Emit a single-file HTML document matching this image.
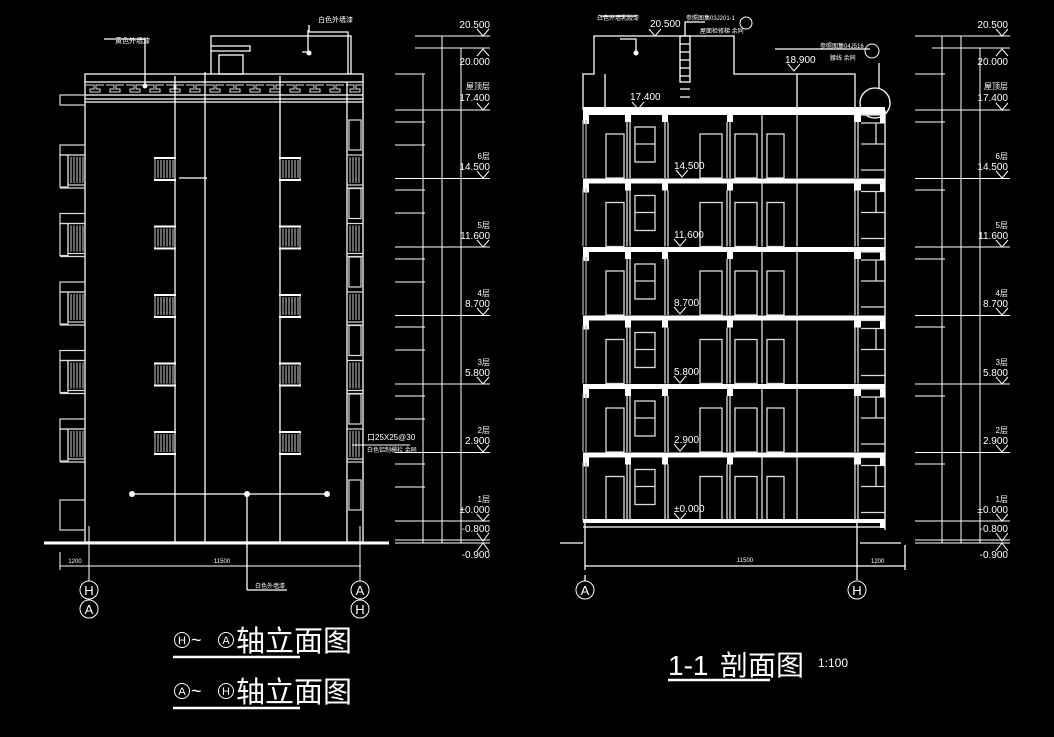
<!DOCTYPE html>
<html><head><meta charset="utf-8"><style>
html,body{margin:0;padding:0;background:#000;}
svg{display:block}
text{font-family:"Liberation Sans Narrow","Liberation Sans","Noto Sans CJK SC",sans-serif;fill:#fff}
</style></head><body>
<svg width="1054" height="737" viewBox="0 0 1054 737" xmlns="http://www.w3.org/2000/svg">
<defs>
<pattern id="meander" x="85" y="82" width="20" height="13" patternUnits="userSpaceOnUse">
<path d="M1 3H9V7H5V10H15V7H11V3H19" stroke="#ddd" stroke-width="1" fill="none"/>
</pattern>
<g id="grille" stroke="#ccc" stroke-width="1" fill="none">
<rect x="0" y="0" width="20" height="22"/>
<path d="M3 2V20M6 2V20M9 2V20M12 2V20M15 2V20M18 2V20"/>
<line x1="-1" y1="22" x2="21" y2="22" stroke="#fff" stroke-width="2"/>
<line x1="-1" y1="0" x2="21" y2="0" stroke="#fff" stroke-width="2"/>
</g>
<g id="elevFloor" stroke="#ddd" stroke-width="1.2" fill="none">
<use href="#grille" x="155" y="48"/>
<use href="#grille" x="280" y="48"/>
<rect x="60" y="35" width="25" height="10"/>
<rect x="68" y="45" width="17" height="30"/>
<path d="M71 47V73M74 47V73M77 47V73M80 47V73M83 47V73" stroke="#aaa"/>
<rect x="60" y="45" width="8" height="32"/>
<line x1="60" y1="78" x2="85" y2="78"/>
<rect x="347" y="45" width="16" height="30"/>
<path d="M350 47V73M353 47V73M356 47V73M359 47V73" stroke="#aaa"/>
<line x1="347" y1="78" x2="363" y2="78"/>
<rect x="349" y="10" width="12" height="30"/>
</g>
<g id="secFloor" stroke="#ddd" stroke-width="1.3" fill="none">
<rect x="583" y="0" width="302" height="5" fill="#fff" stroke="none"/>
<rect x="583" y="0" width="6" height="14" fill="#fff" stroke="none"/>
<rect x="625" y="5" width="6" height="7" fill="#fff" stroke="none"/>
<rect x="662" y="5" width="6" height="7" fill="#fff" stroke="none"/>
<rect x="727" y="5" width="6" height="7" fill="#fff" stroke="none"/>
<rect x="854" y="0" width="7" height="12" fill="#fff" stroke="none"/>
<path d="M627 12V68M630 12V68M665 12V68M668 12V68M727 12V68M730 12V68M762 5V68M797 5V68M855 12V68M858 12V68"/>
<rect x="606" y="24" width="18" height="44"/>
<rect x="635" y="17" width="20" height="35"/>
<line x1="635" y1="34" x2="655" y2="34"/>
<rect x="700" y="24" width="22" height="44"/>
<rect x="735" y="24" width="22" height="44"/>
<rect x="767" y="24" width="17" height="44"/>
<path d="M583 10V68M586 10V68" stroke="#aaa"/>
<path d="M861 5H885V13H861M861 13H876V34H861M861 34H885V60H861" />
<rect x="880" y="5" width="5" height="8" fill="#fff" stroke="none"/>
</g>
<g id="circ" fill="none" stroke="#fff" stroke-width="1"><circle cx="0" cy="0" r="9"/></g>
</defs>

<!-- ===== LEFT ELEVATION ===== -->
<rect x="86" y="83" width="276" height="12" fill="url(#meander)"/>
<g stroke="#fff" stroke-width="1.3" fill="none">
<rect x="85" y="74" width="278" height="468"/>
<line x1="347" y1="82" x2="347" y2="542"/>
<line x1="85" y1="82" x2="363" y2="82"/>
<line x1="85" y1="95" x2="363" y2="95"/>
<line x1="85" y1="99" x2="363" y2="99"/>
<line x1="85" y1="102" x2="363" y2="102"/>
<line x1="175" y1="76" x2="175" y2="542"/>
<line x1="205" y1="72" x2="205" y2="542"/>
<line x1="280" y1="76" x2="280" y2="542"/>
<polyline points="211,74 211,36 351,36 351,74"/>
<polyline points="211,46 250,46 250,51 211,51"/>
<rect x="219" y="55" width="24" height="19"/>
<line x1="130" y1="494" x2="327" y2="494"/>
<line x1="247" y1="494" x2="247" y2="590"/>
<polyline points="247,590 287,590"/>
<line x1="179" y1="178" x2="207" y2="178"/>
<polyline points="104,39 145,39 145,86"/>
<polyline points="309,25 309,32 348,32 348,74"/>
<polyline points="302,52 308,52 308,30"/>
</g>
<g fill="#fff"><circle cx="145" cy="86" r="2.5"/><circle cx="309" cy="53" r="2.5"/><circle cx="132" cy="494" r="3"/><circle cx="247" cy="494" r="3"/><circle cx="327" cy="494" r="3"/></g>
<use href="#elevFloor" y="110"/>
<use href="#elevFloor" y="178.5"/>
<use href="#elevFloor" y="247"/>
<use href="#elevFloor" y="315.5"/>
<use href="#elevFloor" y="384"/>
<g stroke="#ddd" stroke-width="1.2" fill="none">
<rect x="60" y="500" width="25" height="30"/>
<rect x="60" y="95" width="25" height="10"/>
<rect x="349" y="480" width="12" height="30"/>
</g>
<line x1="44" y1="543" x2="389" y2="543" stroke="#fff" stroke-width="3"/>
<g stroke="#fff" stroke-width="1" fill="none">
<line x1="60" y1="566" x2="361" y2="566"/>
<line x1="60" y1="552" x2="60" y2="570"/>
<line x1="89" y1="526" x2="89" y2="581"/>
<line x1="360" y1="526" x2="360" y2="581"/>
</g>
<text x="75" y="563" font-size="6" text-anchor="middle">1200</text>
<text x="222" y="563" font-size="6" text-anchor="middle">11500</text>
<text x="255" y="588" font-size="6">白色外墙漆</text>
<text x="115" y="43" font-size="7">黄色外墙漆</text>
<text x="318" y="22" font-size="7">白色外墙漆</text>
<text x="367" y="440" font-size="8">口25X25@30</text>
<text x="367" y="452" font-size="6">白色铝制栅栏 余同</text>
<line x1="352" y1="445" x2="410" y2="445" stroke="#fff"/>
<use href="#circ" x="89" y="590"/><use href="#circ" x="89" y="609"/>
<use href="#circ" x="360" y="590"/><use href="#circ" x="360" y="609"/>
<text x="89" y="595" font-size="13" text-anchor="middle" font-family="Liberation Serif">H</text>
<text x="89" y="614" font-size="13" text-anchor="middle" font-family="Liberation Serif">A</text>
<text x="360" y="595" font-size="13" text-anchor="middle" font-family="Liberation Serif">A</text>
<text x="360" y="614" font-size="13" text-anchor="middle" font-family="Liberation Serif">H</text>

<!-- left dimension column -->
<g stroke="#fff" stroke-width="1" fill="none">
<line x1="423" y1="74" x2="423" y2="543"/>
<line x1="442" y1="36" x2="442" y2="543"/>
<line x1="461" y1="48" x2="461" y2="543"/>
<path d="M415 36H490M415 48H490M395 110H490M395 178.5H490M395 247H490M395 315.5H490M395 384H490M395 452.5H490M395 521H490M395 540H490M395 543H490"/>
<path d="M395 74H425M395 122H425M395 145H425M395 190H425M395 213H425M395 259H425M395 282H425M395 327H425M395 350H425M395 396H425M395 419H425M395 464H425M395 487H425"/>
</g>
<g stroke="#fff" stroke-width="1" fill="none">
<line x1="942" y1="36" x2="942" y2="543"/>
<line x1="961" y1="36" x2="961" y2="543"/>
<line x1="980" y1="48" x2="980" y2="543"/>
<path d="M915 36H1010M932 48H1010M915 110H1010M915 178.5H1010M915 247H1010M915 315.5H1010M915 384H1010M915 452.5H1010M915 521H1010M915 540H1010M915 543H1010"/>
<path d="M915 74H945M915 122H945M915 190H945M915 259H945M915 327H945M915 396H945M915 464H945"/>
</g>
<g stroke="#fff" stroke-width="1" fill="none">
<path d="M477 29l6 7l6-7M477 56l6-7l6 7M477 103l6 7l6-7M477 171l6 7l6-7M477 240l6 7l6-7M477 308l6 7l6-7M477 377l6 7l6-7M477 445l6 7l6-7M477 514l6 7l6-7M477 533l6 8l6-8M477 551l6-8l6 8"/>
<path d="M996 29l6 7l6-7M996 56l6-7l6 7M996 103l6 7l6-7M996 171l6 7l6-7M996 240l6 7l6-7M996 308l6 7l6-7M996 377l6 7l6-7M996 445l6 7l6-7M996 514l6 7l6-7M996 533l6 8l6-8M996 551l6-8l6 8"/>
</g>
<g font-size="10" text-anchor="end">
<text x="490" y="28">20.500</text><text x="490" y="65">20.000</text>
<text x="490" y="89" font-size="8">屋顶层</text><text x="490" y="101">17.400</text>
<text x="490" y="159" font-size="8">6层</text><text x="490" y="170">14.500</text>
<text x="490" y="228" font-size="8">5层</text><text x="490" y="239">11.600</text>
<text x="490" y="296" font-size="8">4层</text><text x="490" y="307">8.700</text>
<text x="490" y="365" font-size="8">3层</text><text x="490" y="376">5.800</text>
<text x="490" y="433" font-size="8">2层</text><text x="490" y="444">2.900</text>
<text x="490" y="502" font-size="8">1层</text><text x="490" y="513">±0.000</text>
<text x="490" y="532">-0.800</text><text x="490" y="558">-0.900</text>
<text x="1008" y="28">20.500</text><text x="1008" y="65">20.000</text>
<text x="1008" y="89" font-size="8">屋顶层</text><text x="1008" y="101">17.400</text>
<text x="1008" y="159" font-size="8">6层</text><text x="1008" y="170">14.500</text>
<text x="1008" y="228" font-size="8">5层</text><text x="1008" y="239">11.600</text>
<text x="1008" y="296" font-size="8">4层</text><text x="1008" y="307">8.700</text>
<text x="1008" y="365" font-size="8">3层</text><text x="1008" y="376">5.800</text>
<text x="1008" y="433" font-size="8">2层</text><text x="1008" y="444">2.900</text>
<text x="1008" y="502" font-size="8">1层</text><text x="1008" y="513">±0.000</text>
<text x="1008" y="532">-0.800</text><text x="1008" y="558">-0.900</text>
</g>

<!-- ===== SECTION ===== -->
<g stroke="#fff" stroke-width="1.3" fill="none">
<polyline points="583,110 583,74 594,74 594,36 734,36 734,74 855,74 855,110"/>
<line x1="605" y1="74" x2="605" y2="110"/>
<line x1="797" y1="74" x2="797" y2="110"/>
<rect x="680" y="36" width="10" height="46"/>
<path d="M680 44H690M680 52H690M680 60H690M680 68H690M680 76H690M680 89H690M680 97H690"/>
<polyline points="620,39 636,39 636,53"/>
<polyline points="600,16 636,16"/>
<polyline points="685,36 685,22 705,22"/>
<line x1="885" y1="110" x2="885" y2="530"/>
<line x1="583" y1="521" x2="885" y2="521"/>
<line x1="583" y1="527" x2="885" y2="527"/>
<path d="M560 543H583M585 523V570M860 543H901M857 523V580"/>
<line x1="585" y1="566" x2="905" y2="566"/>
<line x1="905" y1="545" x2="905" y2="570"/>
<line x1="585" y1="575" x2="585" y2="581"/>
<circle cx="875" cy="103" r="15"/>
<line x1="879" y1="63" x2="879" y2="88"/>
<path d="M775 49H870"/>
</g>
<rect x="583" y="107" width="302" height="5" fill="#fff"/>
<circle cx="636" cy="53" r="2.5" fill="#fff"/>
<use href="#secFloor" y="110"/>
<use href="#secFloor" y="178.5"/>
<use href="#secFloor" y="247"/>
<use href="#secFloor" y="315.5"/>
<use href="#secFloor" y="384"/>
<use href="#secFloor" y="452.5"/>
<rect x="583" y="519" width="302" height="4" fill="#fff"/>
<rect x="880" y="520" width="5" height="8" fill="#fff"/>
<g stroke="#fff" stroke-width="1" fill="none">
<path d="M649 29l6 7l6-7M632 102l6 7l6-7M676 170l6 7l6-7M674 239l6 7l6-7M674 307l6 7l6-7M674 376l6 7l6-7M674 444l6 7l6-7M674 513l6 7l6-7M788 64l6 7l6-7"/>
</g>
<g font-size="10">
<text x="650" y="27">20.500</text>
<text x="630" y="100">17.400</text>
<text x="674" y="169">14.500</text>
<text x="674" y="238">11.600</text>
<text x="674" y="306">8.700</text>
<text x="674" y="375">5.800</text>
<text x="674" y="443">2.900</text>
<text x="674" y="512">±0.000</text>
<text x="785" y="63">18.900</text>
</g>
<text x="597" y="20" font-size="6">白色外墙乳胶漆</text>
<text x="686" y="20" font-size="6">参照图集03J201-1</text>
<text x="700" y="33" font-size="6">屋面检修梯 余同</text>
<text x="820" y="48" font-size="6">参照图集04J516</text>
<text x="830" y="60" font-size="6">腰线 余同</text>
<circle cx="746" cy="23" r="6" stroke="#fff" fill="none"/>
<circle cx="872" cy="51" r="7" stroke="#fff" fill="none"/>
<text x="745" y="562" font-size="6" text-anchor="middle">11500</text>
<text x="871" y="563" font-size="6">1200</text>
<use href="#circ" x="585" y="590"/><use href="#circ" x="857" y="590"/>
<text x="585" y="595" font-size="13" text-anchor="middle" font-family="Liberation Serif">A</text>
<text x="857" y="595" font-size="13" text-anchor="middle" font-family="Liberation Serif">H</text>

<!-- titles -->
<g>
<circle cx="182" cy="640" r="7.5" stroke="#fff" fill="none"/><text x="182" y="644" font-size="11" text-anchor="middle" font-family="Liberation Serif">H</text>
<text x="191" y="646" font-size="18" font-family="Liberation Serif">~</text>
<circle cx="226" cy="640" r="7.5" stroke="#fff" fill="none"/><text x="226" y="644" font-size="11" text-anchor="middle" font-family="Liberation Serif">A</text>
<text x="236" y="651" font-size="29" font-family="'Noto Serif CJK SC',serif">轴立面图</text>
<line x1="173" y1="657" x2="300" y2="657" stroke="#fff" stroke-width="2.5"/>
<circle cx="182" cy="691" r="7.5" stroke="#fff" fill="none"/><text x="182" y="695" font-size="11" text-anchor="middle" font-family="Liberation Serif">A</text>
<text x="191" y="697" font-size="18" font-family="Liberation Serif">~</text>
<circle cx="226" cy="691" r="7.5" stroke="#fff" fill="none"/><text x="226" y="695" font-size="11" text-anchor="middle" font-family="Liberation Serif">H</text>
<text x="236" y="702" font-size="29" font-family="'Noto Serif CJK SC',serif">轴立面图</text>
<line x1="173" y1="708" x2="300" y2="708" stroke="#fff" stroke-width="2.5"/>
<text x="668" y="675" font-size="28" font-family="'Liberation Sans Narrow',sans-serif">1-1</text>
<text x="720" y="675" font-size="28" font-family="'Noto Serif CJK SC',serif">剖面图</text>
<line x1="668" y1="680" x2="770" y2="680" stroke="#fff" stroke-width="2.5"/>
<text x="818" y="667" font-size="12" font-family="'Liberation Sans Narrow',sans-serif">1:100</text>
</g>
</svg>
</body></html>
